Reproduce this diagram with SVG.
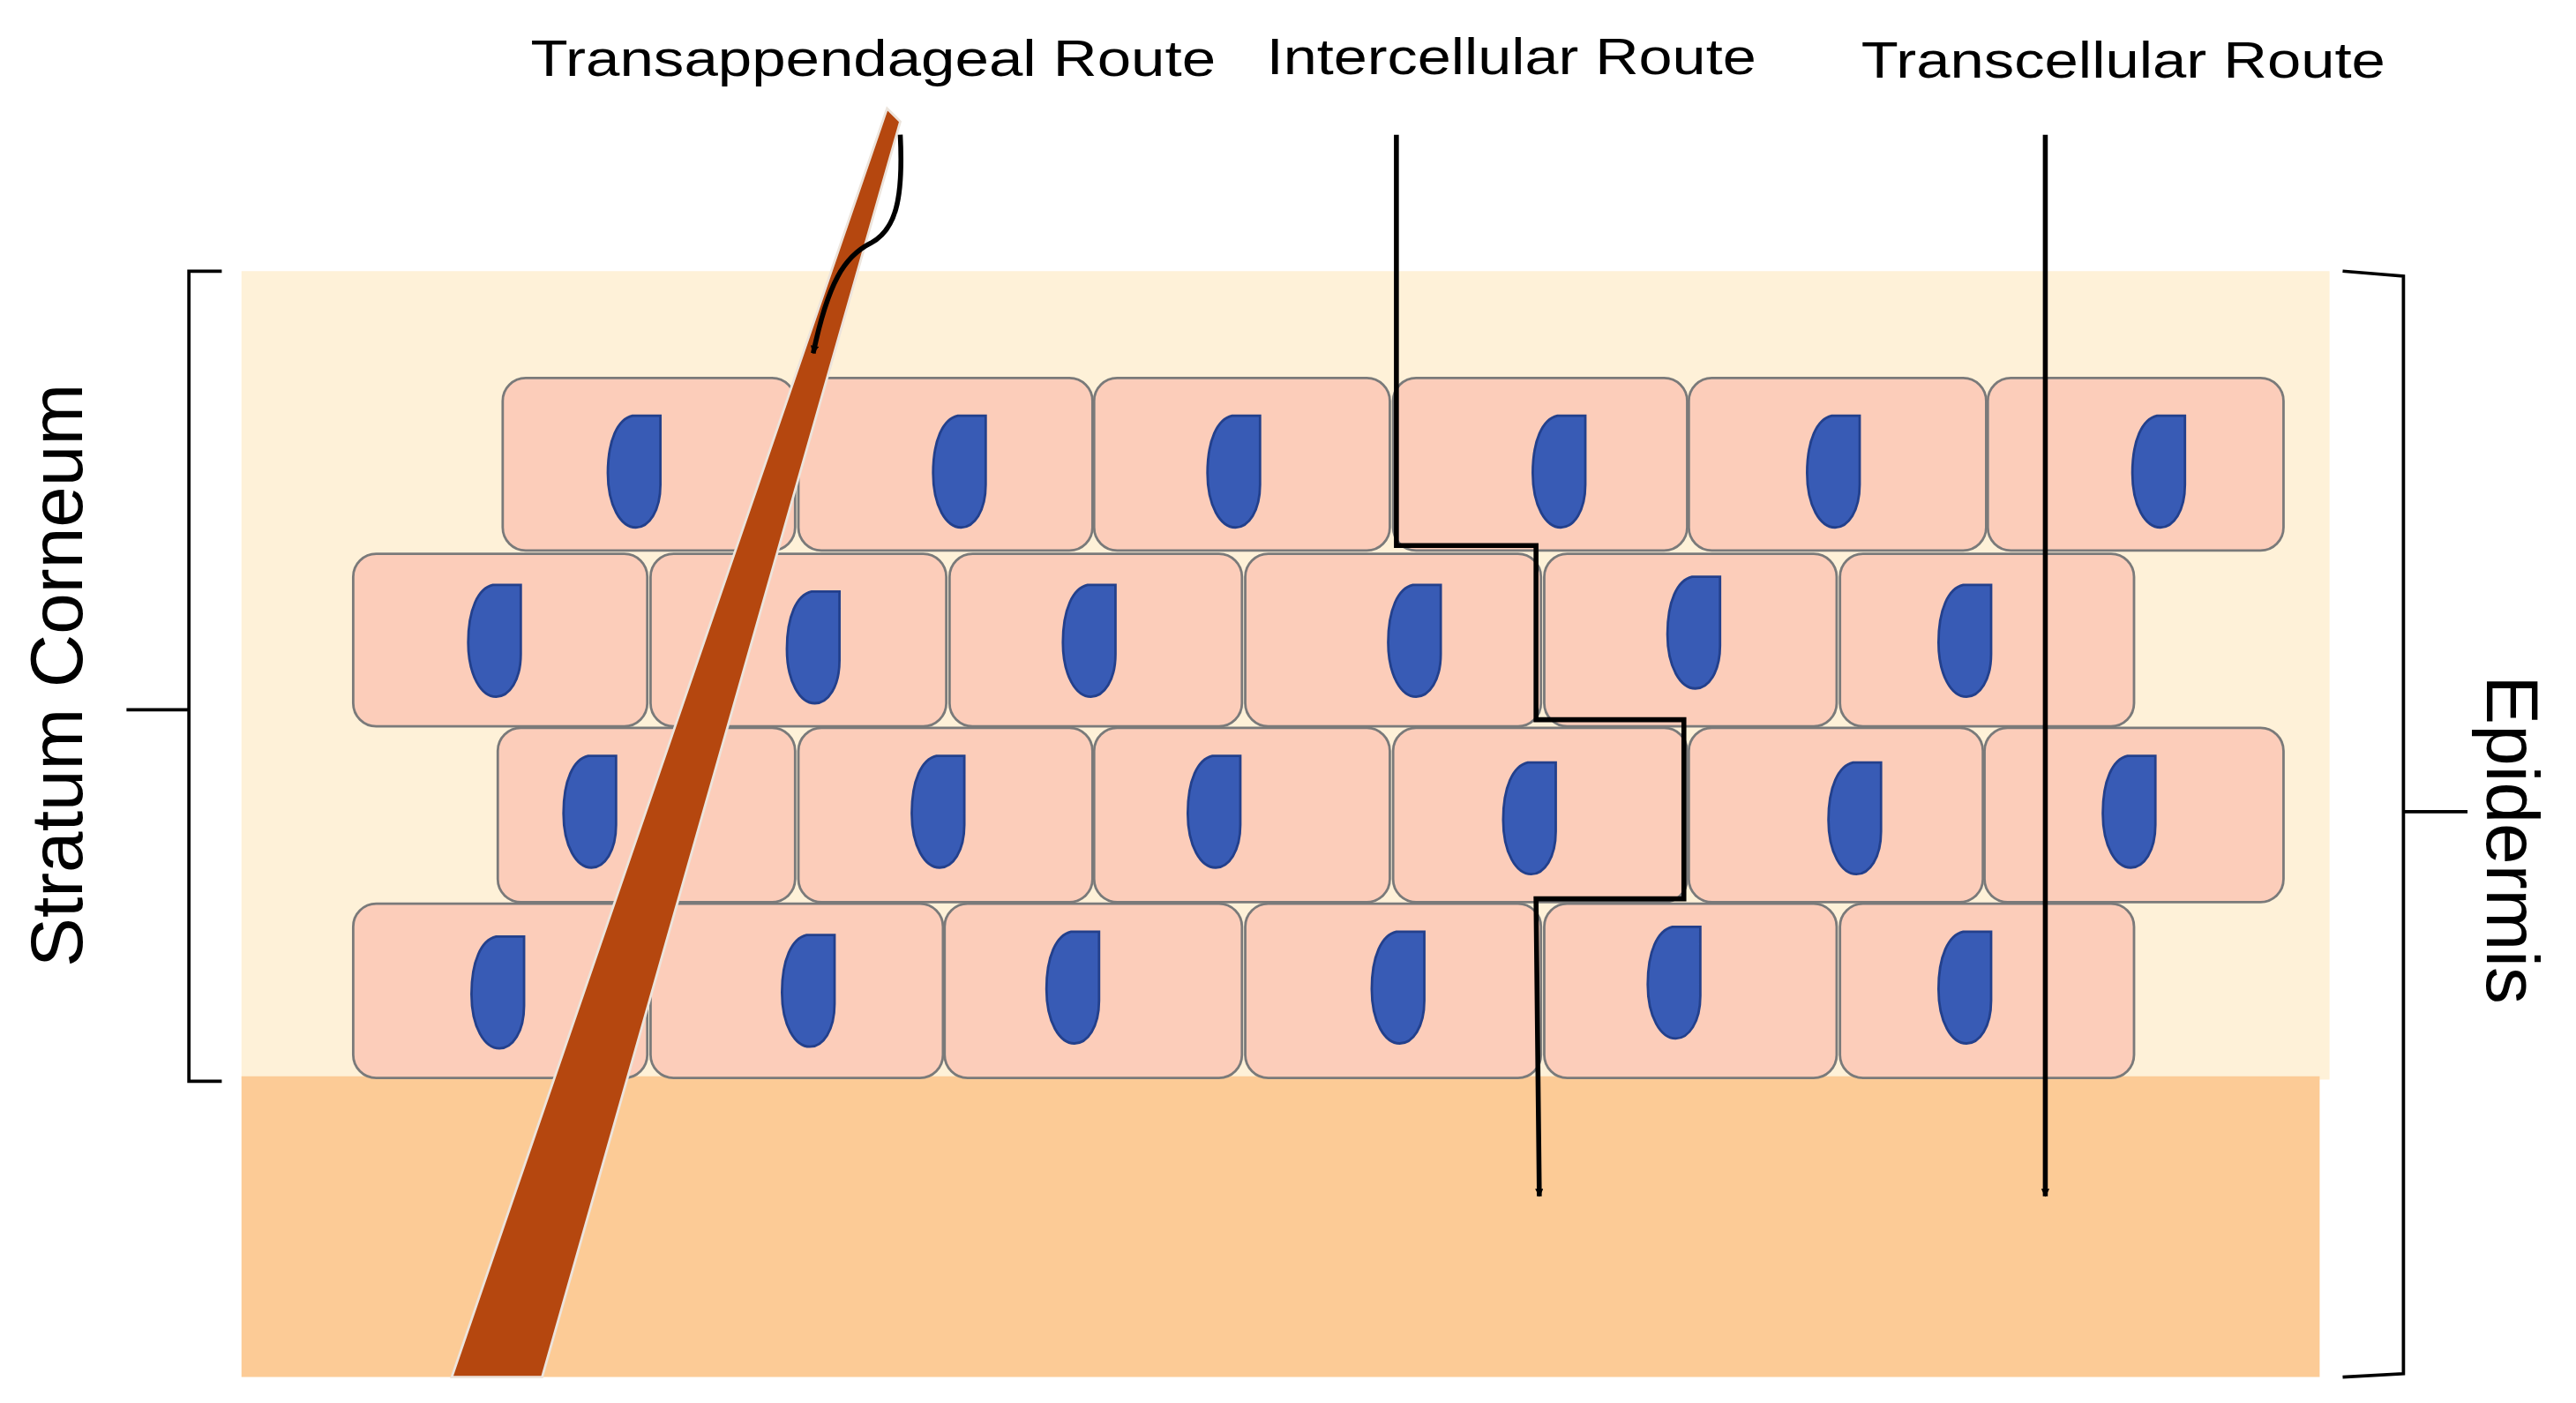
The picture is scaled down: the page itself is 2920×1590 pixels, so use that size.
<svg xmlns="http://www.w3.org/2000/svg" width="2920" height="1590" viewBox="0 0 2920 1590">
<defs>
<style>
.cell{fill:#FCCDBA;stroke:#7a7a7a;stroke-width:1.5}
.nuc{fill:#385BB5;stroke:#23408C;stroke-width:1.5}
.ln{fill:none;stroke:#000;stroke-width:3}
.br{fill:none;stroke:#000;stroke-width:2}
.t{font-family:"Liberation Sans",Arial,sans-serif;fill:#000}
</style>
<path id="n" d="M15,0 L32,0 L32,42 C32,58 25,68 17,68 C8,68 0,55 0,35 C0,15 6,2 15,0 Z"/>
<marker id="ah" viewBox="0 0 10 10" refX="9" refY="5" markerWidth="6" markerHeight="5" markerUnits="userSpaceOnUse" orient="auto">
<path d="M0,0 L10,5 L0,10 Z" fill="#000"/>
</marker>
</defs>
<rect width="2920" height="1590" fill="#fff"/>
<g transform="scale(1.8622)">
<rect x="147" y="165" width="1271" height="492" fill="#FEF1D8"/>
<rect x="147" y="655" width="1265" height="183" fill="#FCCB96"/>
<g id="cells">
<g class="cell">
<rect x="306" y="230" width="178" height="105" rx="14"/><rect x="486" y="230" width="179" height="105" rx="14"/><rect x="666" y="230" width="180" height="105" rx="14"/><rect x="848" y="230" width="179" height="105" rx="14"/><rect x="1028" y="230" width="181" height="105" rx="14"/><rect x="1210" y="230" width="180" height="105" rx="14"/>
<rect x="215" y="337" width="179" height="105" rx="14"/><rect x="396" y="337" width="180" height="105" rx="14"/><rect x="578" y="337" width="178" height="105" rx="14"/><rect x="758" y="337" width="180" height="105" rx="14"/><rect x="940" y="337" width="178" height="105" rx="14"/><rect x="1120" y="337" width="179" height="105" rx="14"/>
<rect x="303" y="443" width="181" height="106" rx="14"/><rect x="486" y="443" width="179" height="106" rx="14"/><rect x="666" y="443" width="180" height="106" rx="14"/><rect x="848" y="443" width="179" height="106" rx="14"/><rect x="1028" y="443" width="179" height="106" rx="14"/><rect x="1208" y="443" width="182" height="106" rx="14"/>
<rect x="215" y="550" width="179" height="106" rx="14"/><rect x="396" y="550" width="178" height="106" rx="14"/><rect x="575" y="550" width="181" height="106" rx="14"/><rect x="758" y="550" width="180" height="106" rx="14"/><rect x="940" y="550" width="178" height="106" rx="14"/><rect x="1120" y="550" width="179" height="106" rx="14"/>
</g>
<g class="nuc">
<use href="#n" x="370" y="253"/><use href="#n" x="568" y="253"/><use href="#n" x="735" y="253"/><use href="#n" x="933" y="253"/><use href="#n" x="1100" y="253"/><use href="#n" x="1298" y="253"/>
<use href="#n" x="285" y="356"/><use href="#n" x="479" y="360"/><use href="#n" x="647" y="356"/><use href="#n" x="845" y="356"/><use href="#n" x="1015" y="351"/><use href="#n" x="1180" y="356"/>
<use href="#n" x="343" y="460"/><use href="#n" x="555" y="460"/><use href="#n" x="723" y="460"/><use href="#n" x="915" y="464"/><use href="#n" x="1113" y="464"/><use href="#n" x="1280" y="460"/>
<use href="#n" x="287" y="570"/><use href="#n" x="476" y="569"/><use href="#n" x="637" y="567"/><use href="#n" x="835" y="567"/><use href="#n" x="1003" y="564"/><use href="#n" x="1180" y="567"/>
</g>
</g>
<g id="hair"><polygon points="540,66 548,74 330,838 275,838" fill="#B5470F" stroke="#ECE4DC" stroke-width="1.5"/></g>
<g id="connectors">
<path class="ln" d="M548,82 C550,122 545,140 530,148 C514,156 504,172 495,215" stroke-width="2.5" marker-end="url(#ah)"/>
<path class="ln" d="M850,82 L850,332 L935,332 L935,438 L1025,438 L1025,547 L935,547 L937,728" marker-end="url(#ah)"/>
<path class="ln" d="M1245,82 L1245,728" marker-end="url(#ah)"/>
</g>
<g id="brackets">
<path class="br" d="M135,165 L115,165 L115,658 L135,658 M77,432 L115,432"/>
<path class="br" d="M1426,165 L1463,168 L1463,836 L1426,838 M1463,494 L1502,494"/>
</g>
<g id="labels" class="t">
<text class="t" x="323" y="46" font-size="31" textLength="417" lengthAdjust="spacingAndGlyphs">Transappendageal Route</text>
<text class="t" x="771" y="45" font-size="31" textLength="298" lengthAdjust="spacingAndGlyphs">Intercellular Route</text>
<text class="t" x="1133" y="47" font-size="31" textLength="319" lengthAdjust="spacingAndGlyphs">Transcellular Route</text>
<text class="t" transform="translate(50,411) rotate(-90)" text-anchor="middle" font-size="45">Stratum  Corneum</text>
<text class="t" transform="translate(1514,511) rotate(90)" text-anchor="middle" font-size="45">Epidermis</text>
</g>
</g>
</svg>
